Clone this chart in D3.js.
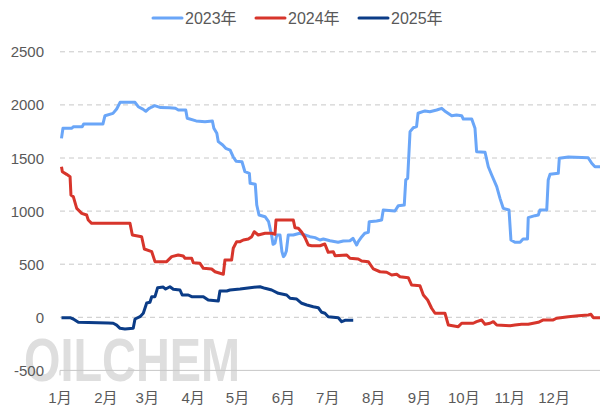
<!DOCTYPE html>
<html>
<head>
<meta charset="utf-8">
<script src="https://cdn.jsdelivr.net/npm/d3@7"></script>
<style>
  body { margin: 0; background: #fff; }
  text { font-family: "Liberation Sans", "Noto Sans CJK SC", sans-serif; }
</style>
</head>
<body>
<div id="chart"></div>
<script>
const width = 600
const height = 416

// [day of year, value]
const s2023 = [[1, 1685], [2, 1780], [8, 1780], [9, 1795], [15, 1795], [16, 1820], [29, 1820], [30.4, 1898],
  [35.8, 1920], [38.3, 1961], [40.6, 2024], [50.7, 2024], [52.9, 1983], [56, 1960], [58, 1940], [60, 1965],
  [62, 1980], [64, 1993], [68, 1975], [74, 1974], [78, 1968], [80, 1952], [85, 1952], [86, 1874], [92, 1849],
  [98, 1842], [103, 1849], [104, 1780], [106, 1733], [107, 1654], [110, 1622], [112, 1591], [115, 1575],
  [117, 1512], [119, 1470], [123, 1465], [125, 1371], [128, 1356], [128.5, 1262], [132, 1252], [133, 1057],
  [134.5, 963], [138.6, 947], [141, 900], [143, 775], [144, 687], [145.3, 697], [146.5, 775], [148.7, 775],
  [150, 618], [151, 571], [152, 587], [153, 624], [154.3, 775], [157.7, 775], [162, 791], [165.6, 775],
  [169, 759], [172.4, 750], [175.7, 728], [178, 737], [182.5, 721], [188, 706], [191.5, 718], [196, 721],
  [198, 744], [200.5, 681], [201.6, 712], [204, 759], [206, 791], [208.4, 800], [209, 900], [214, 907],
  [217.4, 916], [218.5, 1010], [226.4, 1001], [228.7, 1051], [232.7, 1057], [233.7, 1293], [235, 1309],
  [236.6, 1748], [238.8, 1785], [241, 1795], [242, 1921], [246.7, 1943], [250, 1936], [254.6, 1952],
  [258, 1968], [260, 1943], [264.8, 1898], [268, 1905], [271.5, 1898], [272.6, 1867], [278.3, 1867],
  [280.5, 1780], [281.6, 1559], [287.3, 1554], [289.5, 1418], [291.8, 1340], [295.2, 1230], [297.4, 1120],
  [299.6, 1026], [303.5, 1010], [304.8, 728], [307.5, 706], [311, 706], [313, 737], [316, 737], [316.5, 938],
  [321, 957], [323.3, 963], [324.4, 1010], [329, 1010], [330, 1293], [331.2, 1346], [336.8, 1356],
  [337.5, 1497], [343.6, 1509], [357, 1503], [359.4, 1450], [361.6, 1418], [365, 1418]]

const s2024 = [[1, 1418], [1.6, 1371], [4.5, 1346], [6.8, 1324], [7.4, 1152], [9, 1136], [11.3, 1026],
  [14.7, 979], [18, 963], [19.1, 916], [21.4, 885], [47.3, 885], [48.9, 775], [55.2, 759], [57, 643],
  [62, 618], [64.2, 524], [72.1, 524], [75.5, 571], [79.9, 587], [83.3, 577], [84.5, 556], [89, 556],
  [90.1, 514], [94.6, 508], [96.9, 461], [102.5, 455], [104.8, 429], [110.4, 405], [111.5, 540], [116, 540],
  [117.1, 650], [119.4, 712], [121.7, 712], [123.9, 728], [127.3, 737], [129.6, 759], [131.3, 806],
  [134, 775], [138.6, 791], [143.1, 791], [145.3, 782], [146, 916], [157.7, 916], [158.8, 844], [161.1, 838],
  [163.4, 800], [165.6, 750], [167.8, 681], [170.1, 674], [175.7, 674], [179, 690], [181.3, 612], [184.7, 618],
  [185.9, 580], [193.8, 587], [196, 556], [201.6, 549], [203.9, 530], [208.4, 524], [211.8, 455], [216.3, 429],
  [220.8, 424], [224.2, 398], [227.6, 405], [229.8, 382], [235.4, 373], [237.7, 304], [243.3, 298],
  [245.6, 210], [248.5, 163], [251.2, 85], [253.5, 38], [260.2, 38], [262.5, -73], [269.2, -88], [271.5, -56],
  [279.3, -56], [281.6, -41], [285, -25], [287.3, -66], [290.6, -56], [292.9, -41], [295.2, -73], [304.2, -79],
  [307.5, -73], [312, -66], [316.5, -66], [323.3, -47], [326.7, -25], [333.4, -25], [335.7, -9], [343.6, 6],
  [350.3, 15], [357.1, 22], [358.9, 28], [360.5, -4], [365, -4]]

const s2025 = [[1, -4], [6.8, -4], [9, -16], [12.4, -47], [32.6, -54], [36, -56], [38.3, -73], [40.6, -104],
  [43.9, -110], [49.5, -104], [50.7, -16], [54.1, 6], [56.3, 38], [58.6, 135], [60.8, 141], [62, 194],
  [64.2, 194], [66, 279], [69.8, 285], [71.4, 266], [74.3, 288], [76.6, 264], [81.1, 257], [82.6, 210],
  [86.7, 210], [89, 194], [96.9, 194], [100.2, 163], [107, 153], [108.1, 248], [112.7, 248], [114.9, 257],
  [121.7, 266], [128.4, 279], [135.2, 288], [138.6, 273], [143.1, 257], [147.6, 226], [153.2, 210],
  [155.5, 179], [160, 172], [163.4, 132], [166.8, 116], [171.2, 100], [174.6, 90], [176.9, 47], [179.1, 38],
  [181.3, 6], [188.1, -4], [190.4, -41], [192.6, -28], [198.2, -28]]

const seriesNames = ['2023年', '2024年', '2025年']
const seriesColors = ['#6aa6f8', '#d7352b', '#0b3c87']
const monthLabels = ['1月', '2月', '3月', '4月', '5月', '6月', '7月', '8月', '9月', '10月', '11月', '12月']
const monthStarts = [0, 31, 59, 90, 120, 151, 181, 212, 243, 273, 304, 334]
const yTicks = [-500, 0, 500, 1000, 1500, 2000, 2500]

const svg = d3.select('#chart')
  .append('svg')
  .attr('width', width)
  .attr('height', height)

const x = d3.scaleLinear().domain([0, 365]).range([60, 600])
const y = d3.scaleLinear().domain([-500, 2500]).range([370.4, 51.8])

// watermark
svg.append('text')
  .attr('x', 24).attr('y', 381)
  .attr('font-size', 62).attr('font-weight', 'bold')
  .attr('textLength', 216).attr('lengthAdjust', 'spacingAndGlyphs')
  .attr('fill', '#dedede')
  .text('OILCHEM')

// grid
svg.append('g').selectAll('line')
  .data(yTicks.filter(d => d > -500))
  .enter().append('line')
  .attr('x1', 60).attr('x2', 600)
  .attr('y1', d => y(d)).attr('y2', d => y(d))
  .attr('stroke', '#c8c8c8').attr('stroke-width', 1)
  .attr('stroke-dasharray', '5,4')

svg.append('line')
  .attr('x1', 60).attr('x2', 600)
  .attr('y1', y(-500)).attr('y2', y(-500))
  .attr('stroke', '#c8c8c8')
svg.append('line')
  .attr('x1', 60).attr('x2', 60)
  .attr('y1', y(-500)).attr('y2', y(-500) + 5)
  .attr('stroke', '#c8c8c8')

// y labels
svg.append('g').selectAll('text')
  .data(yTicks)
  .enter().append('text')
  .attr('x', 44).attr('y', d => y(d) + 5.5)
  .attr('text-anchor', 'end')
  .attr('font-size', 15).attr('fill', '#595959')
  .text(d => d)

// x labels
svg.append('g').selectAll('text')
  .data(monthLabels)
  .enter().append('text')
  .attr('x', (d, i) => x(monthStarts[i]))
  .attr('y', 403)
  .attr('text-anchor', 'middle')
  .attr('font-size', 15).attr('fill', '#595959')
  .text(d => d)

const line = d3.line().x(d => x(d[0])).y(d => y(d[1]))

;[s2023, s2024, s2025].forEach((s, i) => {
  svg.append('path')
    .datum(s)
    .attr('d', line)
    .attr('fill', 'none')
    .attr('stroke', seriesColors[i])
    .attr('stroke-width', 3)
    .attr('stroke-linejoin', 'round')
})

// legend
const legendX = [153, 256, 359]
const legend = svg.append('g')
seriesNames.forEach((name, i) => {
  legend.append('line')
    .attr('x1', legendX[i]).attr('x2', legendX[i] + 29)
    .attr('y1', 18).attr('y2', 18)
    .attr('stroke', seriesColors[i]).attr('stroke-width', 3)
    .attr('stroke-linecap', 'round')
  legend.append('text')
    .attr('x', legendX[i] + 32).attr('y', 24)
    .attr('font-size', 16).attr('fill', '#595959')
    .text(name)
})
</script>
</body>
</html>
